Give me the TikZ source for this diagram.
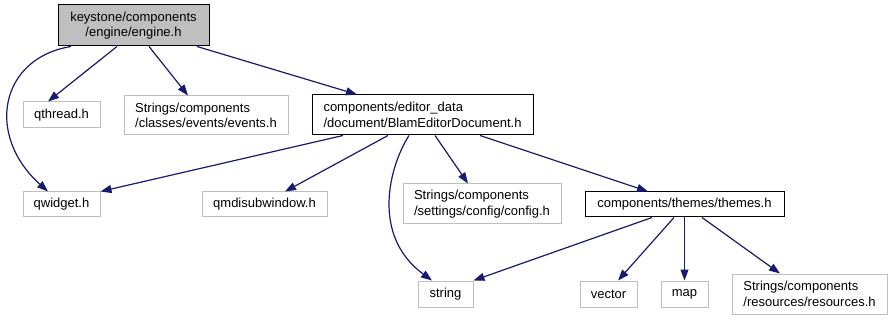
\documentclass[tikz,border=0pt]{standalone}
\usepackage{fontspec}
\setmainfont{Liberation Sans}
\usetikzlibrary{arrows.meta}
\definecolor{edgeblue}{HTML}{191970}
\definecolor{boxgray}{HTML}{BFBFBF}
\tikzset{
  box/.style={draw=boxgray, line width=1pt, fill=white, inner sep=0pt, align=left,
    font=\fontsize{13}{15.5}\selectfont, text=black},
  mainbox/.style={box, draw=black},
  rootbox/.style={box, draw=black, fill=boxgray, align=center},
  dep/.style={draw=edgeblue, line width=1.2pt, -{Triangle[length=11pt,width=8pt]}},
}
\begin{document}
\begin{tikzpicture}[x=1pt,y=-1pt]
\useasboundingbox (0,0) rectangle (893,320);
\node[rootbox, minimum width=151pt, minimum height=41pt] (eng) at (133.5,25.5) {keystone/components\\/engine/engine.h};
\node[box, minimum width=77pt, minimum height=26pt] (qthread) at (61.5,115) {qthread.h};
\node[box, minimum width=164pt, minimum height=39pt] (events) at (206,115.5) {Strings/components\\/classes/events/events.h};
\node[mainbox, minimum width=221pt, minimum height=40pt] (blam) at (422.5,115) {components/editor\_data\\/document/BlamEditorDocument.h};
\node[box, minimum width=77pt, minimum height=25pt] (qwidget) at (61.5,204.5) {qwidget.h};
\node[box, minimum width=125pt, minimum height=25pt] (qmdi) at (264.5,204.5) {qmdisubwindow.h};
\node[box, minimum width=158pt, minimum height=40pt] (config) at (482,204) {Strings/components\\/settings/config/config.h};
\node[mainbox, minimum width=199pt, minimum height=25pt] (themes) at (684.5,204.5) {components/themes/themes.h};
\node[box, minimum width=55pt, minimum height=26pt] (string) at (445.5,294) {string};
\node[box, minimum width=57pt, minimum height=26pt] (vector) at (608.5,294) {vector};
\node[box, minimum width=47pt, minimum height=26pt] (map) at (684.5,294) {map};
\node[box, minimum width=155pt, minimum height=40pt] (res) at (809.5,294) {Strings/components\\/resources/resources.h};

\draw[dep] ([xshift=-62.5pt]eng.south) .. controls (0,58) and (-15,135) .. ([xshift=-13.5pt]qwidget.north);
\draw[dep] ([xshift=-16.5pt]eng.south) -- ([xshift=-13.5pt]qthread.north);
\draw[dep] ([xshift=15.5pt]eng.south) -- ([xshift=-18pt]events.north);
\draw[dep] ([xshift=63.5pt]eng.south) -- ([xshift=-65.5pt]blam.north);

\draw[dep] ([xshift=-79.5pt]blam.south) -- (qwidget.north east);
\draw[dep] ([xshift=-34.5pt]blam.south) -- ([xshift=20.5pt]qmdi.north);
\draw[dep] ([xshift=-13.5pt]blam.south) .. controls (390,165) and (370,235) .. ([xshift=-13.5pt]string.north);
\draw[dep] ([xshift=12.5pt]blam.south) -- ([xshift=-14pt]config.north);
\draw[dep] ([xshift=57.5pt]blam.south) -- ([xshift=-36.5pt]themes.north);

\draw[dep] ([xshift=-32.5pt]themes.south) -- (string.north east);
\draw[dep] ([xshift=-10.5pt]themes.south) -- ([xshift=9.5pt]vector.north);
\draw[dep] (themes.south) -- (map.north);
\draw[dep] ([xshift=17.5pt]themes.south) -- ([xshift=-29.5pt]res.north);
\end{tikzpicture}
\end{document}
